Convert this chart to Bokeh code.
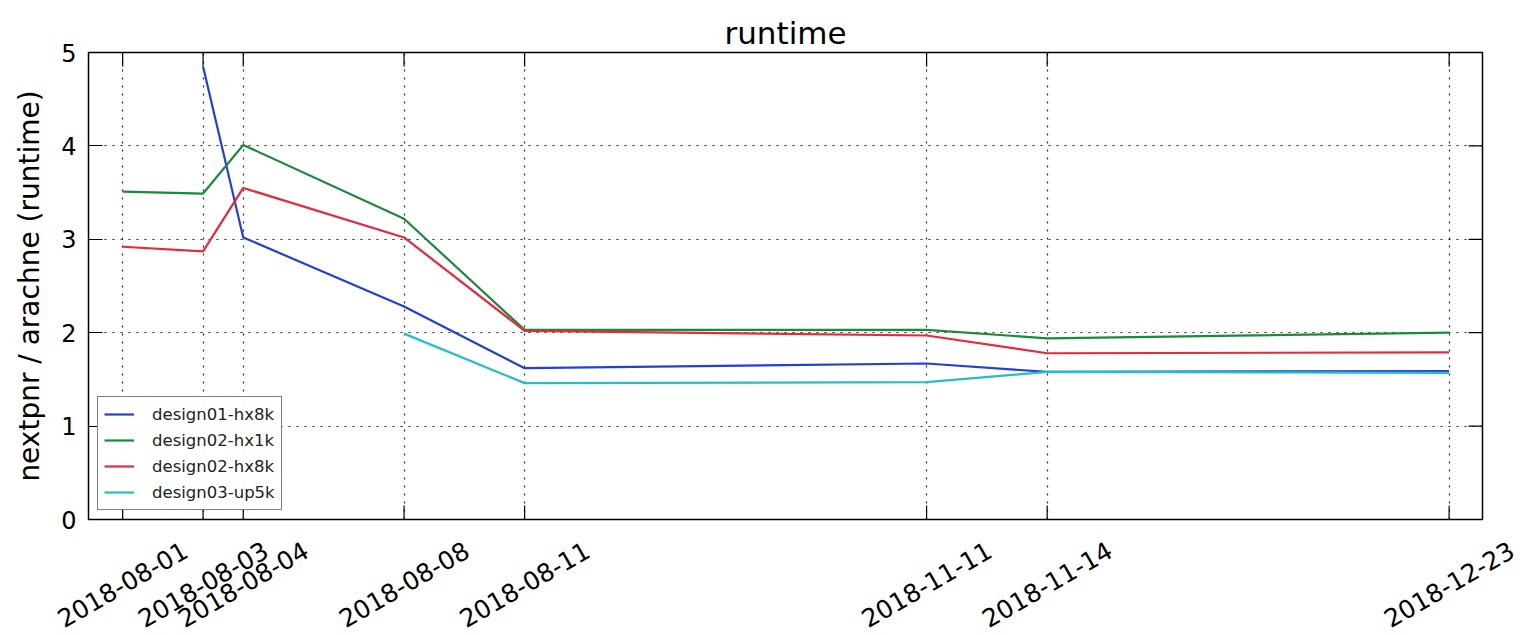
import math
from bokeh.plotting import figure
from bokeh.layouts import column
from bokeh.models import (FixedTicker, Range1d, Legend, LegendItem, Grid)
from bokeh.core.properties import value
from bokeh.embed import file_html
from bokeh.resources import INLINE

# Data
tick_pos = [0, 2, 3, 7, 10, 20, 23, 33]
tick_labels = ["2018-08-01", "2018-08-03", "2018-08-04", "2018-08-08",
               "2018-08-11", "2018-11-11", "2018-11-14", "2018-12-23"]
y_ticks = [0, 1, 2, 3, 4, 5]

d01_hx8k_x = [2, 3, 7, 10, 20, 23, 33]
d01_hx8k_y = [4.85, 3.02, 2.28, 1.62, 1.67, 1.58, 1.59]

d02_hx1k_x = [0, 2, 3, 7, 10, 20, 23, 33]
d02_hx1k_y = [3.51, 3.49, 4.01, 3.22, 2.03, 2.03, 1.94, 2.00]

d02_hx8k_x = [0, 2, 3, 7, 10, 20, 23, 33]
d02_hx8k_y = [2.92, 2.87, 3.55, 3.02, 2.02, 1.97, 1.78, 1.79]

d03_up5k_x = [7, 10, 20, 23, 33]
d03_up5k_y = [1.99, 1.46, 1.47, 1.58, 1.57]

FONT = "DejaVu Sans"
X0, X1, Y0, Y1 = -0.85, 33.83, 0, 5
W, H = 1510, 535
BL, BR, BT, BB = 88, 28, 52, 16
TICK_PX = 14
W2, H2 = 1524, 99           # strip under the chart holding the date labels
LABEL_CENTER_Y = 584        # page y of the rotated labels' centres
label_from_bottom = H2 - (LABEL_CENTER_Y - H)

fw = W - BL - BR
fh = H - BT - BB
upp = (X1 - X0) / fw        # data units per pixel along x

p = figure(width=W, height=H, output_backend="svg", toolbar_location=None,
           x_range=Range1d(X0, X1), y_range=Range1d(Y0, Y1),
           x_axis_location=None,
           min_border_left=BL, min_border_right=BR, min_border_top=BT,
           min_border_bottom=BB)
p.frame_align = False

p.title.text = "runtime"
p.title.align = "center"
p.title.text_font = FONT
p.title.text_font_size = "31px"
p.title.text_font_style = "normal"
p.title.text_color = "black"
p.title.standoff = 4

p.outline_line_color = "black"
p.outline_line_width = 1.5

yax = p.yaxis[0]
yax.ticker = FixedTicker(ticks=y_ticks)
yax.major_label_text_font = FONT
yax.major_label_text_color = "black"
yax.major_label_text_font_size = "24px"
yax.major_label_standoff = 12
yax.axis_line_color = None
yax.major_tick_in = TICK_PX
yax.major_tick_out = 0
yax.major_tick_line_color = "black"
yax.major_tick_line_width = 1.2
yax.minor_tick_line_color = None
yax.axis_label = "nextpnr / arachne (runtime)"
yax.axis_label_text_font = FONT
yax.axis_label_text_font_style = "normal"
yax.axis_label_text_color = "black"
yax.axis_label_text_font_size = "28px"
yax.axis_label_standoff = 12

# grids
if len(p.xgrid) == 0:
    p.add_layout(Grid(dimension=0, ticker=FixedTicker(ticks=tick_pos)))
for g in p.xgrid:
    g.ticker = FixedTicker(ticks=tick_pos)
for g in list(p.xgrid) + list(p.ygrid):
    g.grid_line_color = "black"
    g.grid_line_dash = "2 6"
    g.grid_line_width = 1.2
    g.grid_line_alpha = 0.85

# inward tick marks on bottom, top and right (length converted from pixels)
dx = TICK_PX * upp
dy = TICK_PX * (Y1 - Y0) / fh
p.segment(x0=tick_pos, y0=[Y0] * len(tick_pos), x1=tick_pos,
          y1=[Y0 + dy] * len(tick_pos), line_color="black", line_width=1.2)
p.segment(x0=tick_pos, y0=[Y1] * len(tick_pos), x1=tick_pos,
          y1=[Y1 - dy] * len(tick_pos), line_color="black", line_width=1.2)
p.segment(x0=[X1] * len(y_ticks), y0=y_ticks, x1=[X1 - dx] * len(y_ticks),
          y1=y_ticks, line_color="black", line_width=1.2)

colors = ["#2040d8", "#1a8a3a", "#e8283c", "#22c0c4"]
names = ["design01-hx8k", "design02-hx1k", "design02-hx8k", "design03-up5k"]
series = [(d01_hx8k_x, d01_hx8k_y), (d02_hx1k_x, d02_hx1k_y),
          (d02_hx8k_x, d02_hx8k_y), (d03_up5k_x, d03_up5k_y)]

items = []
for (xs, ys), c, n in zip(series, colors, names):
    r = p.line(xs, ys, line_color=c, line_width=2.2)
    items.append(LegendItem(label=n, renderers=[r]))

legend = Legend(items=items, location="bottom_left")
legend.label_text_font = FONT
legend.label_text_font_size = "16.5px"
legend.label_text_color = "#222222"
legend.border_line_color = "black"
legend.border_line_width = 1.5
legend.margin = 9
legend.padding = 6
legend.spacing = 4
legend.glyph_width = 30
legend.glyph_height = 22
legend.label_height = 22
legend.label_standoff = 18
p.add_layout(legend)

# label strip: same horizontal scale as the chart, spanning its full width
p2 = figure(width=W2, height=H2, output_backend="svg", toolbar_location=None,
            x_range=Range1d(X0 - BL * upp, X0 + (W2 - BL) * upp),
            y_range=Range1d(0, H2),
            x_axis_location=None, y_axis_location=None,
            min_border_left=0, min_border_right=0, min_border_top=0,
            min_border_bottom=0)
p2.frame_align = False
p2.outline_line_color = None
p2.xgrid.visible = False
p2.ygrid.visible = False
p2.text(x=tick_pos, y=[label_from_bottom] * len(tick_pos), text=tick_labels,
        angle=math.pi / 6, text_align="center", text_baseline="middle",
        text_font=value(FONT), text_font_size="25px", text_color="black")

layout = column(p, p2, spacing=0)
open("out.html", "w").write(file_html(layout, INLINE))
